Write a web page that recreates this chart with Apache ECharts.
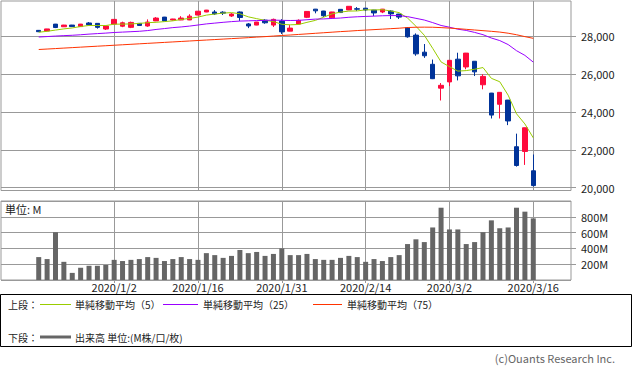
<!DOCTYPE html>
<html><head><meta charset="utf-8">
<script src="https://cdn.jsdelivr.net/npm/echarts@6/dist/echarts.min.js"></script>
<style>html,body{margin:0;padding:0;background:#fff;}#c{width:633px;height:371px;}</style>
</head><body><div id="c"></div>
<script>
const dates = ['2019/12/18','2019/12/19','2019/12/20','2019/12/23','2019/12/24','2019/12/26','2019/12/27','2019/12/30','2019/12/31',
'2020/1/2','2020/1/3','2020/1/6','2020/1/7','2020/1/8','2020/1/9','2020/1/10','2020/1/13','2020/1/14','2020/1/15','2020/1/16','2020/1/17',
'2020/1/21','2020/1/22','2020/1/23','2020/1/24','2020/1/27','2020/1/28','2020/1/29','2020/1/30','2020/1/31',
'2020/2/3','2020/2/4','2020/2/5','2020/2/6','2020/2/7','2020/2/10','2020/2/11','2020/2/12','2020/2/13','2020/2/14',
'2020/2/18','2020/2/19','2020/2/20','2020/2/21','2020/2/24','2020/2/25','2020/2/26','2020/2/27','2020/2/28',
'2020/3/2','2020/3/3','2020/3/4','2020/3/5','2020/3/6','2020/3/9','2020/3/10','2020/3/11','2020/3/12','2020/3/13','2020/3/16'];
const openP = [28300,28270,28630,28490,28580,28500,28690,28670,28370,28630,28520,28460,28670,28530,28800,29000,28850,28850,28850,29110,29270,29270,29260,29060,29270,28640,28580,28840,28580,28790,28260,28630,28990,29420,29320,28960,29410,29380,29440,29470,29370,29270,29320,29160,28450,28050,27150,26510,25250,25580,26780,26370,26670,25430,24990,24400,24620,22160,21910,20890];
const closeP = [28230,28376,28450,28580,28500,28630,28590,28460,28530,28880,28700,28720,28560,28740,28950,28800,28900,28950,29050,29310,29370,29170,29210,29160,28980,28530,28740,28700,28880,28220,28420,28830,29300,29330,29070,29270,29240,29570,29420,29380,29220,29420,29170,29000,27960,27060,26960,25750,25400,26720,25900,27100,26110,25870,23830,25030,23520,21170,23160,20110];
const lowP = [28210,28260,28420,28480,28490,28490,28580,28390,28320,28620,28470,28420,28540,28490,28790,28790,28820,28840,28840,29100,29260,29110,29110,29010,28800,28420,28570,28650,28480,28110,28250,28620,28950,29200,29010,28950,29230,29370,29320,29320,29060,29210,28900,28900,27910,26960,26850,25730,24600,25360,25660,26250,25890,25190,23650,23650,23300,21110,21200,20060];
const highP = [28320,28380,28640,28590,28590,28640,28740,28680,28540,28900,28760,28760,28680,28880,29000,29010,28910,29050,29150,29320,29380,29370,29310,29210,29300,28690,28750,28890,28920,28890,28580,28880,29310,29430,29330,29280,29420,29580,29530,29480,29380,29430,29370,29170,28460,28140,27580,26760,25520,26730,27120,27110,26680,25980,25000,25040,24630,22850,23170,21750];
const volume = [290,265,605,230,90,155,180,180,190,255,240,255,265,290,280,240,265,290,265,255,340,315,280,305,380,340,355,305,330,400,315,315,330,265,255,255,280,305,290,230,265,240,290,315,455,515,480,665,915,640,640,455,480,605,755,655,665,915,865,780];
const ma5 = [28202,28251,28315,28378,28428,28504,28558,28559,28556,28627,28630,28641,28666,28707,28725,28763,28803,28875,28932,29000,29105,29162,29212,29238,29176,29014,28919,28829,28768,28622,28594,28611,28723,28827,28996,29172,29265,29317,29326,29385,29376,29390,29324,29238,28951,28520,28042,27352,26635,26384,26151,26177,26248,26339,25769,25589,24882,23898,23362,22629];
const ma25 = [27950,27973,28000,28022,28041,28069,28102,28130,28156,28188,28209,28230,28252,28290,28348,28395,28445,28482,28526,28583,28641,28683,28725,28762,28791,28803,28817,28828,28840,28830,28821,28828,28861,28894,28904,28929,28952,28991,29018,29036,29052,29070,29081,29079,29026,28935,28846,28709,28559,28467,28363,28297,28193,28073,27897,27762,27551,27228,26980,26624];
const ma75 = [27290,27315,27340,27365,27390,27415,27440,27465,27490,27515,27540,27565,27590,27615,27640,27665,27690,27715,27740,27765,27790,27815,27840,27865,27890,27915,27945,27970,28000,28030,28055,28085,28115,28145,28175,28205,28235,28260,28290,28315,28340,28365,28390,28415,28450,28465,28470,28465,28445,28420,28390,28355,28320,28285,28250,28210,28150,28070,27970,27880];
const dateTicks = ['2020/1/2','2020/1/16','2020/1/31','2020/2/14','2020/3/2','2020/3/16'];
const priceTicks = [20000,22000,24000,26000,28000];
const volumeTicks = [200,400,600,800];
const maNames = ['単純移動平均（5）','単純移動平均（25）','単純移動平均（75）'];
const volumeName = '出来高 単位:(M株/口/枚)';

const RED = '#ff0a3c', BLUE = '#003399', GRIDC = '#999999';
const MA_COLORS = ['#99cc00', '#9900ff', '#ff3300'];
const FONT = '"Noto Sans CJK JP", "Noto Sans", sans-serif';
const PAD = 4;
const cats = [];
for (let k = 0; k < PAD; k++) cats.push('pre' + k);
dates.forEach(d => cats.push(d));
for (let k = 0; k < PAD; k++) cats.push('post' + k);
const pad = arr => [...Array(PAD).fill('-'), ...arr, ...Array(PAD).fill('-')];
const candles = pad(dates.map((d, i) => [openP[i], closeP[i], lowP[i], highP[i]]));
const showTick = (idx, val) => dateTicks.includes(val);

const chart = echarts.init(document.getElementById('c'), null, {renderer: 'svg'});
const maSeries = [ma5, ma25, ma75].map((arr, k) => ({
  name: maNames[k], type: 'line', xAxisIndex: 0, yAxisIndex: 0, data: pad(arr),
  symbol: 'none', smooth: false, z: 4, lineStyle: {color: MA_COLORS[k], width: 1}, itemStyle: {color: MA_COLORS[k]}
}));
const gridLine = {silent: true, symbol: ['none', 'none'], z: 1, animation: false,
  label: {show: false}, lineStyle: {color: GRIDC, width: 1, type: 'solid'}, emphasis: {disabled: true}};

chart.setOption({
  animation: false,
  textStyle: {fontFamily: FONT},
  grid: [
    {left: 1, top: 1, width: 570, height: 189.5, show: true, borderColor: GRIDC, borderWidth: 1, backgroundColor: 'transparent'},
    {left: 1, top: 201, width: 570, height: 79, show: true, borderColor: GRIDC, borderWidth: 1, backgroundColor: 'transparent'}
  ],
  xAxis: [
    {type: 'category', gridIndex: 0, data: cats, axisLine: {show: false}, axisTick: {show: false}, axisLabel: {show: false}, splitLine: {show: false}},
    {type: 'category', gridIndex: 1, data: cats, axisLine: {show: false},
      axisTick: {show: true, alignWithLabel: true, interval: showTick, length: 3, lineStyle: {color: GRIDC}},
      axisLabel: {show: true, interval: showTick, color: '#222', fontSize: 11, fontFamily: FONT, margin: 1},
      splitLine: {show: false}}
  ],
  yAxis: [
    {type: 'value', gridIndex: 0, position: 'right', min: 19850, max: 29850, scale: true,
      axisLine: {show: false}, splitLine: {show: false},
      axisTick: {show: true, length: 5, customValues: priceTicks, lineStyle: {color: GRIDC}},
      axisLabel: {show: true, customValues: priceTicks, margin: 10, color: '#222', fontSize: 11, fontFamily: FONT,
        formatter: v => Number(v).toLocaleString('en-US')}},
    {type: 'value', gridIndex: 1, position: 'right', min: 0, max: 1000, interval: 200,
      axisLine: {show: false}, splitLine: {show: true, lineStyle: {color: GRIDC, width: 1}},
      axisTick: {show: true, length: 5, lineStyle: {color: GRIDC}},
      axisLabel: {show: true, margin: 10, color: '#222', fontSize: 11, fontFamily: FONT, showMinLabel: false, showMaxLabel: false,
        formatter: v => volumeTicks.includes(v) ? v + 'M' : ''}}
  ],
  series: [
    {name: 'price', type: 'candlestick', xAxisIndex: 0, yAxisIndex: 0, data: candles, barWidth: 5, z: 3,
      itemStyle: {color: RED, color0: BLUE, borderColor: RED, borderColor0: BLUE, borderWidth: 1},
      markLine: Object.assign({}, gridLine, {data: [
        ...dateTicks.map(d => ({xAxis: d})),
        ...priceTicks.map(v => ({yAxis: v}))
      ]})},
    ...maSeries,
    {name: volumeName, type: 'bar', xAxisIndex: 1, yAxisIndex: 1, data: pad(volume), barWidth: 5, z: 3,
      itemStyle: {color: '#666666'},
      markLine: Object.assign({}, gridLine, {data: dateTicks.map(d => ({xAxis: d}))})}
  ],
  graphic: [
    {type: 'text', left: 5, top: 203, z: 10, style: {text: '単位: M', fill: '#222', font: '11px ' + FONT}},
    {type: 'rect', z: 10, shape: {x: 0.5, y: 294.5, width: 631, height: 52}, style: {fill: 'none', stroke: '#000', lineWidth: 1}},
    {type: 'text', z: 10, x: 8, y: 304, style: {text: '上段：', fill: '#222', font: '10px ' + FONT, verticalAlign: 'middle'}},
    {type: 'line', z: 10, shape: {x1: 40, y1: 304.5, x2: 71, y2: 304.5}, style: {stroke: MA_COLORS[0], lineWidth: 1}},
    {type: 'text', z: 10, x: 75, y: 304, style: {text: maNames[0], fill: '#222', font: '10px ' + FONT, verticalAlign: 'middle'}},
    {type: 'line', z: 10, shape: {x1: 163, y1: 304.5, x2: 198, y2: 304.5}, style: {stroke: MA_COLORS[1], lineWidth: 1}},
    {type: 'text', z: 10, x: 203, y: 304, style: {text: maNames[1], fill: '#222', font: '10px ' + FONT, verticalAlign: 'middle'}},
    {type: 'line', z: 10, shape: {x1: 313, y1: 304.5, x2: 342, y2: 304.5}, style: {stroke: MA_COLORS[2], lineWidth: 1}},
    {type: 'text', z: 10, x: 347, y: 304, style: {text: maNames[2], fill: '#222', font: '10px ' + FONT, verticalAlign: 'middle'}},
    {type: 'text', z: 10, x: 8, y: 337, style: {text: '下段：', fill: '#222', font: '10px ' + FONT, verticalAlign: 'middle'}},
    {type: 'line', z: 10, shape: {x1: 40, y1: 337, x2: 71, y2: 337}, style: {stroke: '#666666', lineWidth: 3}},
    {type: 'text', z: 10, x: 75, y: 337, style: {text: volumeName, fill: '#222', font: '10px ' + FONT, verticalAlign: 'middle'}},
    {type: 'text', z: 10, x: 615, y: 358, style: {text: '(c)Ouants Research Inc.', fill: '#666', font: '11px ' + FONT, align: 'right', verticalAlign: 'middle'}}
  ]
});
</script></body></html>
